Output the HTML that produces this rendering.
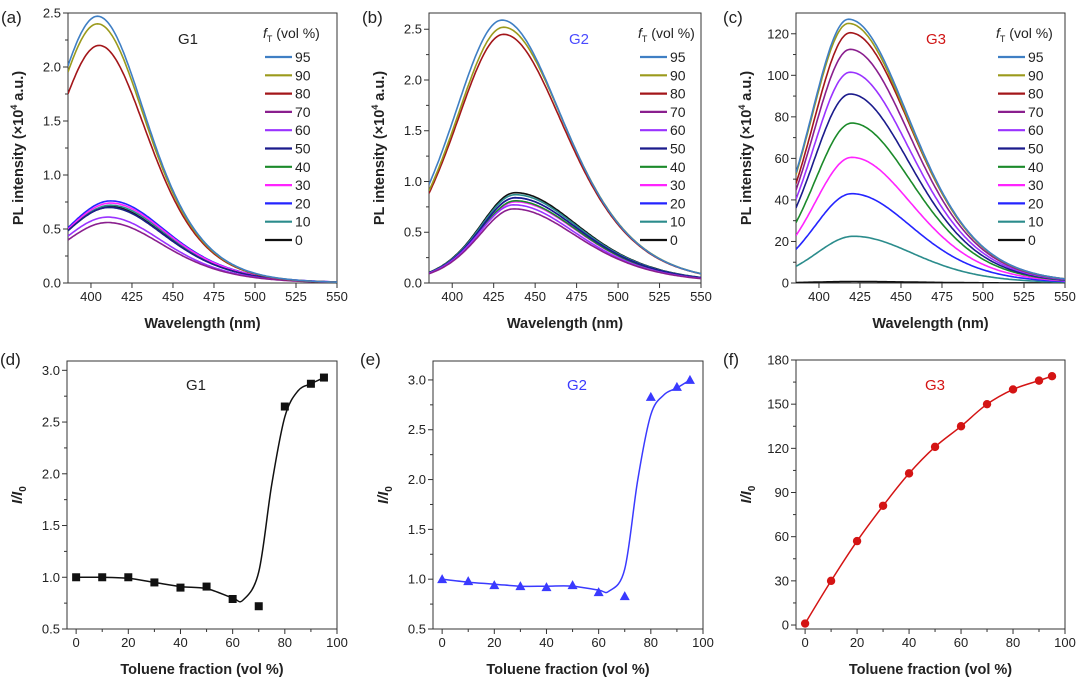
<!DOCTYPE html>
<html><head><meta charset="utf-8"><style>
body{margin:0;background:#fff;width:1080px;height:683px;overflow:hidden}
svg{display:block;font-family:"Liberation Sans",Arial,sans-serif}
</style></head><body>
<svg id="fig" width="1080" height="683" viewBox="0 0 1080 683" xmlns="http://www.w3.org/2000/svg"></svg>
<script>
// ---- data ----
const fractions = [95,90,80,70,60,50,40,30,20,10,0];
const seriesColors = ['#3f7fc4','#9b9a1c','#a3161a','#8a1f8e','#9a33ff','#1b1b8c','#1b8a2a','#ff24ff','#2424ff','#2b8c8c','#111111'];
const aPeaks = [2.47,2.40,2.20,0.56,0.61,0.70,0.70,0.74,0.76,0.72,0.71];
const aCenters = [404,404,405,410,410,411,411,412,412,412,411];
const bPeaks = [2.59,2.52,2.45,0.73,0.77,0.84,0.81,0.80,0.84,0.87,0.89];
const bCenters = [430,431,431,437,437,438,438,438,438,438,438];
const cPeaks = [127,125,120.5,112.5,101.5,91,77,60.5,43,22.5,0.7];
const cCenters = [418,418,419,419,419,419,420,420,420,421,421];
const fracX = [0,10,20,30,40,50,60,70,80,90,95];
const dVals = [1.0,1.0,1.0,0.95,0.90,0.91,0.79,0.72,2.65,2.87,2.93];
const eVals = [1.0,0.98,0.94,0.93,0.92,0.94,0.87,0.83,2.83,2.93,3.0];
const fVals = [1,30,57,81,103,121,135,150,160,166,169];
const fitX = [0,10,20,30,40,50,60,64,70,75,80,85,90,95];
const dFit = [1.0,1.0,0.99,0.95,0.91,0.89,0.80,0.78,1.05,1.9,2.55,2.8,2.87,2.93];
const eFit = [1.0,0.97,0.95,0.93,0.93,0.93,0.89,0.88,1.1,2.0,2.65,2.85,2.92,3.0];

const NS='http://www.w3.org/2000/svg';
const svg=document.getElementById('fig');
function mk(tag,attrs,parent,text){const e=document.createElementNS(NS,tag);for(const k in attrs)e.setAttribute(k,attrs[k]);if(text!==undefined)e.textContent=text;(parent||svg).appendChild(e);return e;}

function axes(g,box,xr,yr,xt,yt,ym,xm,fmtY,xTitle,yTitle,yTitleItalic){
  const sx=v=>box.l+(v-xr[0])/(xr[1]-xr[0])*(box.r-box.l);
  const sy=v=>box.b-(v-yr[0])/(yr[1]-yr[0])*(box.b-box.t);
  const frame=mk('rect',{x:box.l,y:box.t,width:box.r-box.l,height:box.b-box.t,fill:'none',stroke:'#333','stroke-width':1},g);
  
  
  xt.forEach(v=>{const x=sx(v);mk('line',{x1:x,x2:x,y1:box.b,y2:box.b+5,stroke:'#333'},g);
    const t=mk('text',{x:x,y:box.b+18,'text-anchor':'middle','font-size':13,fill:'#222'},g,v);
    });
  (xm||[]).forEach(v=>{const x=sx(v);mk('line',{x1:x,x2:x,y1:box.b,y2:box.b+3,stroke:'#333'},g);});
  yt.forEach(v=>{const y=sy(v);mk('line',{x1:box.l-5,x2:box.l,y1:y,y2:y,stroke:'#333'},g);
    const t=mk('text',{x:box.l-7,y:y+4.5,'text-anchor':'end','font-size':13,fill:'#222'},g,fmtY(v));
    });
  ym.forEach(v=>{const y=sy(v);mk('line',{x1:box.l-3,x2:box.l,y1:y,y2:y,stroke:'#333'},g);});
  const cx=(box.l+box.r)/2;
  const xtl=mk('text',{x:cx,y:box.b+45,'text-anchor':'middle','font-size':14.5,'font-weight':'bold',fill:'#222'},g,xTitle);
  
  const cy=(box.t+box.b)/2;
  const ytl=mk('text',{x:0,y:0,'text-anchor':'middle','font-size':14.5,'font-weight':'bold',fill:'#222',transform:`translate(${box.l-45},${cy}) rotate(-90)`},g);
  
  if(yTitleItalic){ytl.innerHTML='<tspan font-style="italic">I</tspan><tspan font-style="italic">/I</tspan><tspan font-size="10" dy="4">0</tspan>';}
  else{ytl.innerHTML='PL intensity (×10<tspan font-size="9" dy="-6">4</tspan><tspan dy="6"> a.u.)</tspan>';}
  return {sx,sy};
}
function range(a,b,s){const r=[];for(let v=a;v<=b+1e-9;v+=s)r.push(+v.toFixed(3));return r;}

function spectraPanel(id,box,yr,yt,ym,fmtY,peaks,centers,wL,wR,p,name,nameColor,nameX,legX,label){
  const g=mk('g',{},svg);
  
  const xr=[386,550];
  const {sx,sy}=axes(g,box,xr,yr,range(400,550,25),yt,ym,null,fmtY,'Wavelength (nm)','',false);
  const cg=mk('g',{'clip-path':'url(#clip-'+id+')'},g);
  const cp=mk('clipPath',{id:'clip-'+id},g);mk('rect',{x:box.l,y:box.t,width:box.r-box.l,height:box.b-box.t},cp);
  for(let i=peaks.length-1;i>=0;i--){
    let d='';
    for(let w=xr[0];w<=xr[1];w+=1){
      const dd=w-centers[i];const wd=dd<0?wL[i<3?0:1]:wR[i<3?0:1];
      const v=peaks[i]*Math.pow(1/Math.cosh(dd/wd),p);
      d+=(d?'L':'M')+sx(w).toFixed(1)+','+sy(v).toFixed(1);
    }
    const path=mk('path',{d:d,fill:'none',stroke:seriesColors[i],'stroke-width':1.6},cg);
    
    
  }
  const nt=mk('text',{x:nameX,y:44,'font-size':15,fill:nameColor,'text-anchor':'middle'},g,name);
  
  const lg=mk('g',{},g);
  const lt=mk('text',{x:legX-2,y:38,'font-size':14,fill:'#222'},lg);
  lt.innerHTML='<tspan font-style="italic">f</tspan><tspan font-size="9" dy="4">T</tspan><tspan dy="-4"> (vol %)</tspan>';
  fractions.forEach((f,i)=>{
    const y=57+i*18.3;
    const ln=mk('line',{x1:legX,x2:legX+27,y1:y,y2:y,stroke:seriesColors[i],'stroke-width':2.2},lg);
    
    const tx=mk('text',{x:legX+30,y:y+5,'font-size':14,fill:'#222'},lg,f);
    
  });
  const pl=mk('text',{x:box.l-67+label.dx,y:23,'font-size':17,fill:'#222'},g,label.t);
  
}
function catmull(pts){
  let d='M'+pts[0][0]+','+pts[0][1];
  for(let i=0;i<pts.length-1;i++){
    const p0=pts[i-1]||pts[i],p1=pts[i],p2=pts[i+1],p3=pts[i+2]||p2;
    const c1=[p1[0]+(p2[0]-p0[0])/6,p1[1]+(p2[1]-p0[1])/6],c2=[p2[0]-(p3[0]-p1[0])/6,p2[1]-(p3[1]-p1[1])/6];
    d+=`C${c1[0].toFixed(1)},${c1[1].toFixed(1)} ${c2[0].toFixed(1)},${c2[1].toFixed(1)} ${p2[0].toFixed(1)},${p2[1].toFixed(1)}`;
  }
  return d;
}
function ratioPanel(id,box,yr,yt,ym,fmtY,vals,fitVals,fitXs,color,marker,name,nameX,label){
  const g=mk('g',{},svg);
  
  const {sx,sy}=axes(g,box,[-3.5,100],yr,range(0,100,20),yt,ym,range(10,90,20),fmtY,'Toluene fraction (vol %)','',true);
  const pts=fitXs.map((x,i)=>[sx(x),sy(fitVals[i])]);
  const line=mk('path',{d:catmull(pts),fill:'none',stroke:color,'stroke-width':1.5},g);
  
  fracX.forEach((x,i)=>{
    const X=sx(x),Y=sy(vals[i]);let m;
    if(marker==='sq')m=mk('rect',{x:X-4,y:Y-4,width:8,height:8,fill:color},g);
    else if(marker==='tri')m=mk('path',{d:`M${X},${Y-5}L${X+5},${Y+4}L${X-5},${Y+4}Z`,fill:color},g);
    else m=mk('circle',{cx:X,cy:Y,r:4.2,fill:color},g);
    
  });
  const nt=mk('text',{x:nameX,y:390,'font-size':15,fill:id==='d'?'#222':color,'text-anchor':'middle'},g,name);
  
  const pl=mk('text',{x:box.l-67+label.dx,y:365,'font-size':17,fill:'#222'},g,label.t);
  
}
const f1=v=>v.toFixed(1);
const f0=v=>String(Math.round(v));
spectraPanel('a',{l:68,r:337,t:13,b:283},[0,2.5],range(0,2.5,0.5),range(0.25,2.25,0.5),f1,aPeaks,aCenters,[39,40],[41,48],2,'G1','#222',188,265,{t:'(a)',dx:0});
spectraPanel('b',{l:429,r:701,t:13,b:283},[0,2.66],range(0,2.5,0.5),range(0.25,2.25,0.5),f1,bPeaks,bCenters,[41,30],[51,54],2,'G2','#4a4aff',579,640,{t:'(b)',dx:0});
spectraPanel('c',{l:796,r:1065,t:13,b:283},[0,130],range(0,120,20),range(10,110,20),f0,cPeaks,cCenters,[40,40],[64,64],3,'G3','#d01515',936,998,{t:'(c)',dx:-6});
ratioPanel('d',{l:67,r:337,t:361,b:629},[0.5,3.09],range(0.5,3.0,0.5),range(0.75,2.75,0.5),f1,dVals,dFit,fitX,'#111','sq','G1',196,{t:'(d)',dx:0});
ratioPanel('e',{l:433,r:703,t:361,b:629},[0.5,3.19],range(0.5,3.0,0.5),range(0.75,2.75,0.5),f1,eVals,eFit,fitX,'#3a3aff','tri','G2',577,{t:'(e)',dx:-6});
ratioPanel('f',{l:796,r:1065,t:360,b:629},[-2.7,180],range(0,180,30),range(15,165,30),f0,fVals,fVals,fracX,'#d41414','circ','G3',935,{t:'(f)',dx:-6});
</script>
</body></html>
